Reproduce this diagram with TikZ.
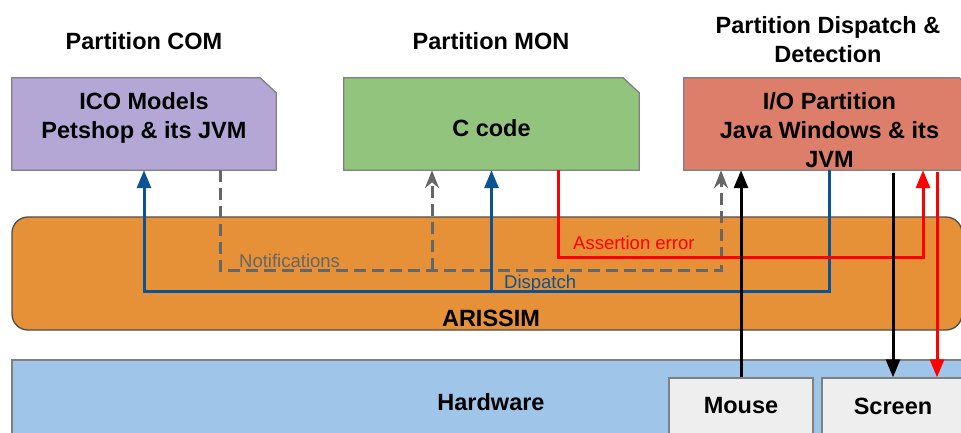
\documentclass[tikz,border=0pt]{standalone}
\usepackage{fontspec}
\setmainfont{Liberation Sans}
\usetikzlibrary{arrows.meta}
\definecolor{comfill}{HTML}{B4A7D6}
\definecolor{monfill}{HTML}{93C47D}
\definecolor{iofill}{HTML}{DD7E6B}
\definecolor{arfill}{HTML}{E69138}
\definecolor{hwfill}{HTML}{9FC5E8}
\definecolor{devfill}{HTML}{EEEEEE}
\definecolor{dspblue}{HTML}{0B5394}
\definecolor{ntfgray}{HTML}{666666}
\begin{document}
\begin{tikzpicture}[x=1pt,y=-1pt,font=\bfseries\fontsize{23.5}{29}\selectfont,
  part/.style={minimum width=#1,minimum height=92pt,inner sep=0pt},
  dev/.style={draw=gray,line width=1.3pt,fill=devfill,minimum height=56pt,inner sep=0pt},
  lbl/.style={font=\mdseries\fontsize{18.5}{22}\selectfont,inner sep=0pt,anchor=base west},
  wire/.style={line width=3pt,-{Triangle[length=18pt,width=14pt]}},
  ntfwire/.style={line width=3pt,ntfgray,dash pattern=on 12pt off 6pt,-{Stealth[length=18pt,width=14pt,inset=6pt]}}]
\useasboundingbox (0,0) rectangle (961,432);
% platform layers
\draw[gray,line width=1.3pt,fill=hwfill] (12,360) rectangle (980,445);
\node (hwlbl) at (491,402) {Hardware};
\draw[black!70,line width=1.3pt,fill=arfill,rounded corners=16pt] (12,217) rectangle (962,330);
\node (arlbl) at (491,318) {ARISSIM};
\node[dev,minimum width=144pt] (mouse) at (741,406) {Mouse};
\node[dev,minimum width=142pt] (screen) at (893,406) {Screen};
% partitions
\node[part=264pt] (com) at (144,124) {};
\node[part=295pt] (mon) at (491.5,124) {};
\node[part=291pt] (io) at (829.5,124) {};
\foreach \n/\c in {com/comfill,mon/monfill,io/iofill}
  \draw[gray,line width=1.3pt,fill=\c] (\n.south west) -- (\n.north west) -- ([xshift=-16pt]\n.north east) -- ([yshift=-15pt]\n.north east) -- (\n.south east) -- cycle;
\node[align=center,anchor=north] (comtxt) at ([yshift=-11pt]com.north) {ICO Models\\Petshop \& its JVM};
\node (montxt) at ([yshift=-4pt]mon.center) {C code};
\node[align=center,anchor=north] (iotxt) at ([yshift=-11pt]io.north) {I/O Partition\\Java Windows \& its\\JVM};
\node (comttl) at (144,41) {Partition COM};
\node (monttl) at (491,41) {Partition MON};
\node[align=center] (iottl) at (828,40) {Partition Dispatch \&\\Detection};
% connectors
\coordinate (dspbus) at (491.5,291);
\coordinate (ntfbus) at (432,270);
\coordinate (asrbus) at (923,257);
\coordinate (scrred) at ([xshift=44pt]screen.north);
\draw[ntfwire] ([xshift=76pt]com.south) |- (ntfbus) -| ([xshift=-108.5pt]io.south);
\draw[ntfwire] (ntfbus) -- (ntfbus |- mon.south);
\draw[wire,dspblue] (io.south) |- (dspbus) -| (com.south);
\draw[wire,dspblue] (dspbus) -- (mon.south);
\draw[wire,red] ([xshift=66.5pt]mon.south) |- (asrbus) -- (asrbus |- io.south);
\draw[wire] (mouse.north) -- (mouse.north |- io.south);
\draw[wire,shorten <=3pt] (screen.north |- io.south) -- (screen.north);
\draw[wire,red,shorten <=2pt] (scrred |- io.south) -- (scrred);
\node[lbl,ntfgray] (ntflbl) at (239,267) {Notifications};
\node[lbl,dspblue] (dsplbl) at (504,288) {Dispatch};
\node[lbl,red] (asrlbl) at (573,249) {Assertion error};
\end{tikzpicture}
\end{document}
